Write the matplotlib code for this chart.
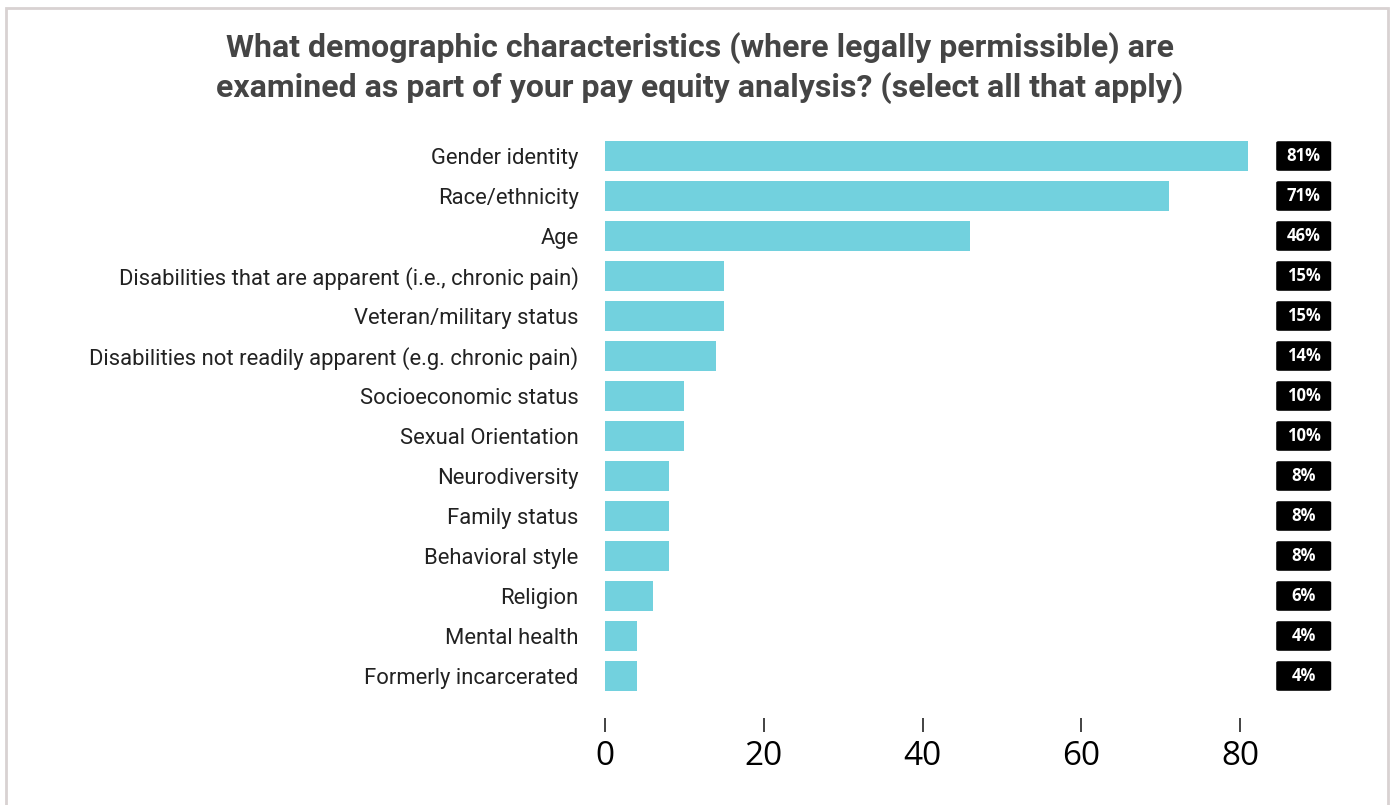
import matplotlib
matplotlib.use('Agg')
import matplotlib.pyplot as plt
from matplotlib.patches import Rectangle, FancyBboxPatch

# dati iz ankete
categories = ['Gender identity', 'Race/ethnicity', 'Age',
              'Disabilities that are apparent (i.e., chronic pain)',
              'Veteran/military status',
              'Disabilities not readily apparent (e.g. chronic pain)',
              'Socioeconomic status', 'Sexual Orientation', 'Neurodiversity',
              'Family status', 'Behavioral style', 'Religion', 'Mental health',
              'Formerly incarcerated']
values = [81, 71, 46, 15, 15, 14, 10, 10, 8, 8, 8, 6, 4, 4]
xticks = [0, 20, 40, 60, 80]

W, H = 1394, 805
fig = plt.figure(figsize=(W / 100, H / 100), dpi=100)

# okvir okoli slike
fig.patches.append(Rectangle((6 / W, -0.1), (1388 - 6) / W, 1.1 - 8 / H,
                             transform=fig.transFigure, fill=False,
                             edgecolor='#d8d2d2', linewidth=2))

ax = fig.add_axes([605 / W, 1 - 718 / H, (90 * 7.94) / W, (718 - 136) / H])
y = list(range(len(categories)))
ax.barh(y, values, height=0.75, color='#72d1de')
ax.set_xlim(0, 90)
ax.set_ylim(14.05, -0.5)

ax.set_yticks(y)
ax.set_yticklabels(categories, fontsize=15.8, family='Roboto', color='#222222')
ax.tick_params(axis='y', length=0, pad=19)
ax.set_xticks(xticks)
ax.set_xticklabels([str(t) for t in xticks], fontsize=24, family='Open Sans')
ax.tick_params(axis='x', length=10, width=1.2, pad=6, color='#222222')
for s in ax.spines.values():
    s.set_visible(False)

# oznake z vrednostmi (crne skatlice fiksne sirine)
bw = 55 / 7.94
for yi, v in zip(y, values):
    box = FancyBboxPatch((88 - bw / 2, yi - 0.37), bw, 0.74,
                         boxstyle='round,pad=0,rounding_size=0.3',
                         mutation_aspect=0.12, facecolor='black',
                         edgecolor='none', clip_on=False)
    ax.add_patch(box)
    ax.text(88, yi, f'{v}%', ha='center', va='center', fontsize=12,
            family='Open Sans', fontweight='bold', color='white', clip_on=False)

fig.text(700 / W, 1 - 68 / H,
         'What demographic characteristics (where legally permissible) are\n'
         'examined as part of your pay equity analysis? (select all that apply)',
         ha='center', va='center', fontsize=23, fontweight='bold',
         family='Roboto', color='#454545', linespacing=1.32)

fig.savefig('out.png', dpi=100)
